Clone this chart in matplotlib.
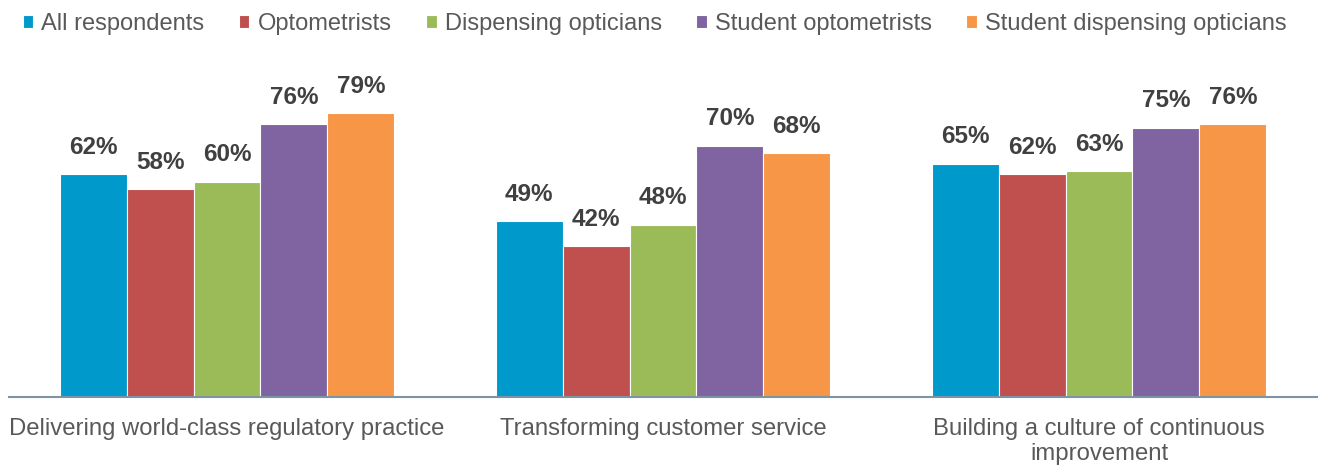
import matplotlib.pyplot as plt
import numpy as np

categories = [
    "Delivering world-class regulatory practice",
    "Transforming customer service",
    "Building a culture of continuous\nimprovement",
]
series_names = [
    "All respondents",
    "Optometrists",
    "Dispensing opticians",
    "Student optometrists",
    "Student dispensing opticians",
]
values = [
    [62, 49, 65],
    [58, 42, 62],
    [60, 48, 63],
    [76, 70, 75],
    [79, 68, 76],
]
colors = ["#0099CC", "#C0504D", "#9BBB59", "#8064A2", "#F79646"]

plt.rcParams["font.family"] = ["Liberation Sans", "DejaVu Sans"]

fig = plt.figure(figsize=(13.2, 4.66), dpi=100)
ax = fig.add_axes([9 / 1320, 69 / 466, 1308 / 1320, 359 / 466])

x = np.arange(len(categories))
width = 0.1535
offsets = (np.arange(len(series_names)) - 2) * width

for name, vals, color, off in zip(series_names, values, colors, offsets):
    bars = ax.bar(x + off, vals, width, color=color, edgecolor="white",
                  linewidth=0.8, label=name)
    for b, v in zip(bars, vals):
        ax.annotate(f"{v}%", (b.get_x() + b.get_width() / 2, v),
                    xytext=(0, 11), textcoords="offset points",
                    ha="center", va="bottom", fontsize=17.5,
                    fontweight="bold", color="#404040")

ax.set_xlim(-0.5, 2.5)
ax.set_ylim(0, 100)
ax.set_xticks(x)
ax.set_xticklabels(categories, fontsize=17.2, color="#595959",
                   linespacing=1.2)
ax.tick_params(axis="x", length=0, pad=15)
ax.set_yticks([])
for side in ["left", "right", "top"]:
    ax.spines[side].set_visible(False)
ax.spines["bottom"].set_color("#7F93A6")
ax.spines["bottom"].set_linewidth(1.5)

fig.legend(loc="upper center", bbox_to_anchor=(0.496, 1.0), ncol=5,
           frameon=False, fontsize=17, labelcolor="#595959",
           handlelength=0.45, handleheight=0.45, handletextpad=0.35,
           columnspacing=1.45, borderaxespad=0.15)

fig.savefig("out.png", dpi=100)
